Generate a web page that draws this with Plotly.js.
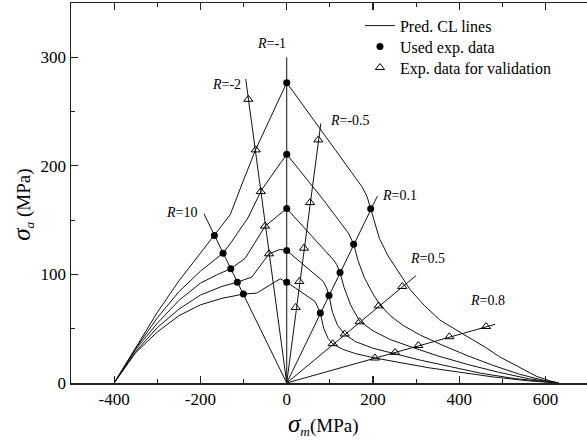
<!DOCTYPE html>
<html><head><meta charset="utf-8">
<script src="https://cdn.plot.ly/plotly-3.0.1.min.js"></script>
<style>body{margin:0;background:#fff}#chart{width:587px;height:445px}</style>
</head><body><div id="chart"></div>
<script>
// ---- data ----
const c1X = [-400,-350,-300,-250,-200,-167.7,-131,-100,-72,0,60,120,174,186,195,215,235,260,286,320,355,409,460,494,540,580,610,630];
const c1Y = [0,33,65,94,120,135.8,155,187,215,276.6,244,211,181,172,160.4,133,117,102,86,71,58,45,33,24,14,6,2,0];
const c2X = [-400,-350,-300,-250,-200,-147.6,-128,-90,-58,0,85,135,143,155.2,165,180,200,216,240,270,310,360,420,480,540,590,630];
const c2Y = [0,32,60,84,103,119.6,130,152,178,210.7,168.7,142.6,138,127.9,113,97,82,72,62,53,44,35,25,16,8,3,0];
const c3X = [-400,-350,-300,-250,-200,-160,-129.7,-96,-50,0,108,116,123.5,133,148,169,200,240,290,350,420,490,560,630];
const c3Y = [0,31,55,76,92,100,105.2,115,144.5,160.7,113.5,109,101.8,88,72,57,48,40,33,25,17,10,4,0];
const c4X = [-400,-350,-300,-250,-200,-150,-114.4,-81,-41,-15,0,84.8,92.6,98,106,118,134,160,200,250,310,380,450,530,630];
const c4Y = [0,29,51,68,81,89,92.9,97.5,119,123,122,93.5,87.4,80.6,65,53,45,38,32,27,21,15,9,4,0];
const c5X = [-400,-350,-300,-250,-200,-150,-100.5,-69.5,-40,-15,0,65.6,71.8,77.9,86,96,107,130,160,205,260,330,400,480,560,630];
const c5Y = [0,28,47,62,72,78,81.9,82.8,90,96,92.9,75.1,70,64.4,50,41,36,31,27,23,19,14,10,5.5,2,0];

// R lines (from origin to end point)
const rNames = ['-1','-2','-0.5','0.1','0.5','0.8','10'];
const rEndX = [0,-95,79,210,300,483,-192];
const rEndY = [300,280,239,172,99,54,156];

// used experimental data (filled dots)
const usedX = [-167.7,-147.6,-129.7,-114.4,-100.5, 0,0,0,0,0, 194.6,155.2,123.5,98,77.9];
const usedY = [135.8,119.6,105.2,92.9,81.9, 276.6,210.7,160.7,122.0,92.9, 160.4,127.9,101.8,80.6,64.4];

// validation data (open triangles)
const valX = [-88.9,-71.8,-60.2,-50.3,-41, 73.3,54,40,29.3,20.8, 267.8,213,169,134.3,106.5, 204.5,251,305,377,462];
const valY = [261.3,214.7,176.3,144.5,119, 223.9,166.2,124.2,93.5,69.6, 88.9,71.1,56.4,45.1,36.2, 23,28.2,34.5,42.6,52];

// tick labels
const xTickVals = [-400,-200,0,200,400,600];
const xTickText = ['-400','-200','0','200','400','600'];
const yTickVals = [0,100,200,300];
const yTickText = ['0','100','200','300'];

// ---- traces ----
const SERIF = '"Liberation Serif", "Times New Roman", Times, serif';
const lineStyle = {color:'#111', width:1};
const traces = [];
const curves = [[c1X,c1Y],[c2X,c2Y],[c3X,c3Y],[c4X,c4Y],[c5X,c5Y]];
curves.forEach((c,i)=>{
  traces.push({x:c[0], y:c[1], mode:'lines', line:lineStyle, name:'Pred. CL lines', showlegend:i===0, legend:'legend', hoverinfo:'skip'});
});
rNames.forEach((n,i)=>{
  traces.push({x:[0,rEndX[i]], y:[0,rEndY[i]], mode:'lines', line:lineStyle, showlegend:false, hoverinfo:'skip'});
});
traces.push({x:usedX, y:usedY, mode:'markers', name:'Used exp. data', legend:'legend2',
  marker:{symbol:'circle', size:7, color:'#000'}});
traces.push({x:valX, y:valY, mode:'markers', name:'Exp. data for validation', legend:'legend3',
  marker:{symbol:'triangle-up-open', size:8, color:'#000', line:{width:1}}});

// R labels
const labelPos = [[-35,313],[-140,275],[146,242],[262,173],[327,115],[465,76],[-244,157]];
const annotations = rNames.map((n,i)=>({
  x:labelPos[i][0], y:labelPos[i][1], xref:'x', yref:'y', showarrow:false,
  xanchor:'center', yanchor:'middle',
  text:'<i>R</i>=' + n, font:{family:SERIF, size:14, color:'#000'}
}));
annotations.push({xref:'paper', yref:'paper', x:0.49, y:-0.108, xanchor:'center', yanchor:'middle', showarrow:false,
  text:'<span style="font-size:25px"><i>σ</i></span><sub><i>m</i></sub>(MPa)',
  font:{family:SERIF, size:19, color:'#000'}});
annotations.push({xref:'paper', yref:'paper', x:-0.093, y:0.469, xanchor:'center', yanchor:'middle', showarrow:false, textangle:-90,
  text:'<span style="font-size:25px"><i>σ</i></span><sub><i>a</i></sub> (MPa)',
  font:{family:SERIF, size:19, color:'#000'}});

const axisCommon = {showgrid:false, zeroline:false, showline:true, linecolor:'#222', linewidth:1.5,
  ticks:'inside', ticklen:7, tickwidth:1.2, tickcolor:'#222',
  tickfont:{family:SERIF, size:17, color:'#000'}};

const legendCommon = {x:0.56, xanchor:'left', yanchor:'top', bgcolor:'rgba(0,0,0,0)',
  font:{family:SERIF, size:16, color:'#000'}, itemwidth:30};

const layout = {
  width:587, height:445,
  margin:{l:71, r:0, t:3, b:62},
  paper_bgcolor:'#fff', plot_bgcolor:'#fff',
  font:{family:SERIF, color:'#000'},
  xaxis:Object.assign({}, axisCommon, {range:[-500,696], tickmode:'array', tickvals:xTickVals, ticktext:xTickText, mirror:'ticks',
    minor:{dtick:100, tick0:0, ticks:'inside', ticklen:4, tickwidth:1.2, tickcolor:'#222'}}),
  yaxis:Object.assign({}, axisCommon, {range:[0,350], tickmode:'array', tickvals:yTickVals, ticktext:yTickText,
    minor:{dtick:50, tick0:0, ticks:'inside', ticklen:4, tickwidth:1.2, tickcolor:'#222'}}),
  showlegend:true,
  legend:Object.assign({}, legendCommon, {y:0.985}),
  legend2:Object.assign({}, legendCommon, {y:0.9298}),
  legend3:Object.assign({}, legendCommon, {y:0.8746}),
  annotations:annotations
};
Plotly.newPlot('chart', traces, layout, {displayModeBar:false, staticPlot:true});
</script></body></html>
